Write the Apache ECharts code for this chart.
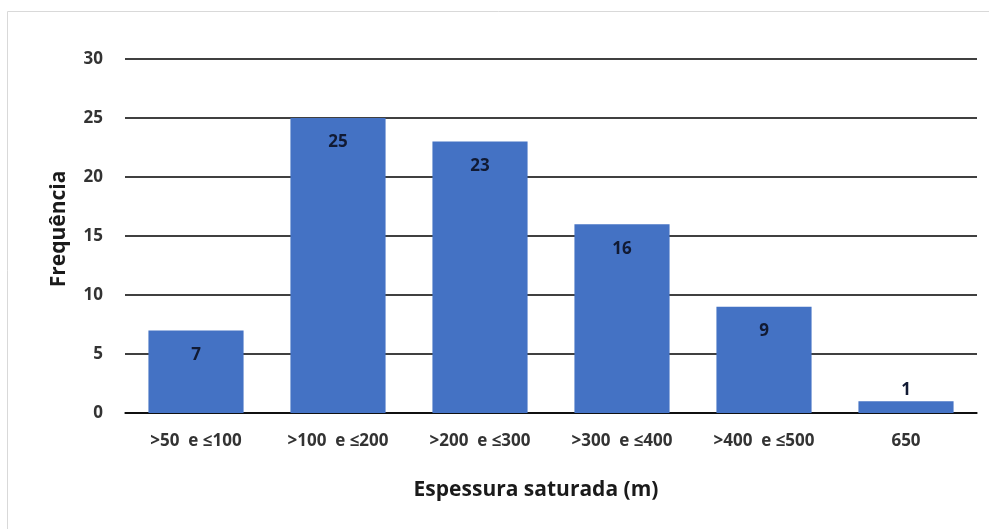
<!DOCTYPE html>
<html>
<head>
<meta charset="utf-8">
<script src="https://cdn.jsdelivr.net/npm/echarts@6/dist/echarts.min.js"></script>
<style>
  html, body { margin: 0; padding: 0; background: #fff; }
  #chart { width: 989px; height: 529px; }
</style>
</head>
<body>
<div id="chart"></div>
<script>
const categories = ['>50  e ≤100', '>100  e ≤200', '>200  e ≤300', '>300  e ≤400', '>400  e ≤500', '650'];
const frequencies = [7, 25, 23, 16, 9, 1];
const yTicks = [0, 5, 10, 15, 20, 25, 30];

const font = '"Open Sans", Lato, sans-serif';

let myChart = echarts.init(document.getElementById('chart'));
myChart.setOption({
  animation: false,
  textStyle: { fontFamily: font },
  grid: {
    top: 59,
    left: 125,
    right: 12,
    bottom: 116
  },
  graphic: [
    {
      type: 'rect',
      shape: { x: 7.5, y: 11.5, width: 1000, height: 600 },
      style: { fill: 'none', stroke: '#d9d9d9', lineWidth: 1 },
      silent: true
    },
    {
      type: 'text',
      x: 536,
      y: 490,
      style: {
        text: 'Espessura saturada (m)',
        font: 'bold 21px ' + font,
        fill: '#1a1a1a',
        align: 'center',
        verticalAlign: 'middle'
      }
    },
    {
      type: 'text',
      x: 59,
      y: 229,
      rotation: Math.PI / 2,
      style: {
        text: 'Frequência',
        font: 'bold 21px ' + font,
        fill: '#1a1a1a',
        align: 'center',
        verticalAlign: 'middle'
      }
    }
  ],
  xAxis: {
    type: 'category',
    data: categories,
    axisTick: { show: false },
    axisLine: { lineStyle: { color: '#000', width: 1.5 } },
    axisLabel: {
      margin: 20,
      fontSize: 17,
      fontWeight: 'bold',
      color: '#333'
    }
  },
  yAxis: {
    type: 'value',
    min: yTicks[0],
    max: yTicks[yTicks.length - 1],
    interval: 5,
    axisLine: { show: false },
    axisTick: { show: false },
    axisLabel: {
      margin: 22,
      fontSize: 17,
      fontWeight: 'bold',
      color: '#333'
    },
    splitLine: { lineStyle: { color: '#000', width: 1.5 } }
  },
  series: [
    {
      type: 'bar',
      data: frequencies.map(v => ({
        value: v,
        label: v < 3
          ? { position: 'top', distance: 3 }
          : { position: 'insideTop', distance: 16 }
      })),
      barCategoryGap: '33%',
      itemStyle: { color: '#4472C4' },
      label: {
        show: true,
        fontSize: 17,
        fontWeight: 'bold',
        color: '#111a33',
        formatter: '{c}'
      }
    }
  ]
});
</script>
</body>
</html>
